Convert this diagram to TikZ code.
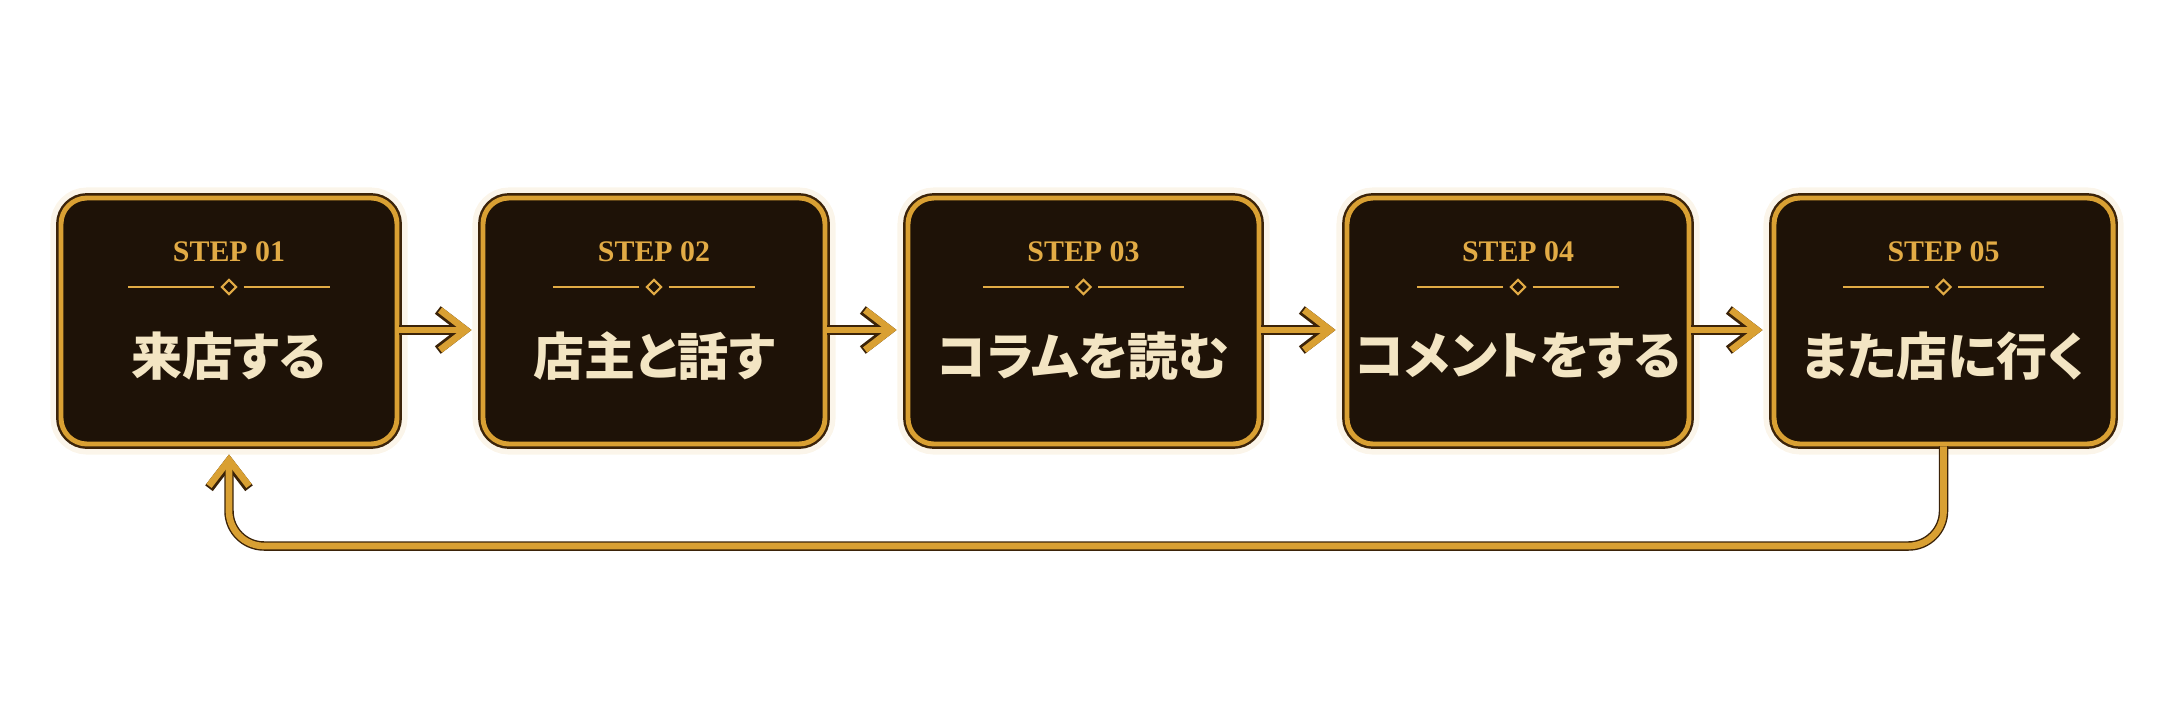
\documentclass[tikz,border=0pt]{standalone}
\usepackage{fontspec}
\setmainfont{Liberation Serif}
\newfontfamily\jpfont{Noto Sans CJK JP}[RawFeature=+palt]
\usetikzlibrary{positioning,arrows.meta,shapes.geometric}

\definecolor{gold}{HTML}{D9A033}
\definecolor{edgedark}{HTML}{3B2309}
\definecolor{boxbrown}{HTML}{1E1207}
\definecolor{cream}{HTML}{F3E5C3}
\definecolor{steptext}{HTML}{E2AB45}

\tikzset{
    stepbox/.style={draw=gold, line width=1.4pt, fill=boxbrown, rounded corners=0.26cm,
        minimum height=2.46cm, inner sep=0pt,
        preaction={draw=gold, line width=6pt, draw opacity=0.1},
        preaction={draw=edgedark, line width=2.8pt}},
    steplabel/.style={text=steptext, font=\bfseries\fontsize{8.5}{10}\selectfont},
    steptitle/.style={text=cream, font=\jpfont\bfseries\fontsize{14.5}{17}\selectfont},
    gem/.style={diamond, draw=steptext, fill=boxbrown, line width=0.6pt, inner sep=0pt, minimum size=0.15cm},
    divider/.style={draw=steptext, line width=0.5pt},
    flow/.style={line width=1.9pt, draw=gold, -{Straight Barb[length=2.6mm, width=4mm]},
        preaction={draw=edgedark, line width=2.7pt, -{Straight Barb[length=2.6mm, width=4mm]}}}
}

\begin{document}
\begin{tikzpicture}
    \useasboundingbox (0,0) rectangle (21.72,7.24);

    % the five step boxes
    \node[stepbox, minimum width=3.36cm] (s1) at (2.29,4.03) {};
    \node[stepbox, minimum width=3.42cm] (s2) at (6.54,4.03) {};
    \node[stepbox, minimum width=3.51cm] (s3) at (10.835,4.03) {};
    \node[stepbox, minimum width=3.42cm] (s4) at (15.18,4.03) {};
    \node[stepbox, minimum width=3.39cm] (s5) at (19.435,4.03) {};

    % label, divider and title inside each box
    \foreach \i/\t in {1/来店する, 2/店主と話す, 3/コラムを読む, 4/コメントをする, 5/また店に行く} {
        \node[steplabel] (lab\i) at ([yshift=0.69cm]s\i.center) {STEP 0\i};
        \node[gem] (gem\i) at ([yshift=0.34cm]s\i.center) {};
        \draw[divider] ([xshift=-0.06cm]gem\i.west) -- ++(-0.86,0);
        \draw[divider] ([xshift=0.06cm]gem\i.east) -- ++(0.86,0);
        \node[steptitle] (title\i) at ([yshift=-0.35cm]s\i.center) {\t};
    }

    % arrows between the steps
    \foreach \a/\b in {1/2, 2/3, 3/4, 4/5}
        \draw[flow, shorten >=0.9mm] ([yshift=-0.9mm]s\a.east) -- ([yshift=-0.9mm]s\b.west);

    % way back to the first step
    \coordinate (back) at (10,1.78);
    \draw[flow, rounded corners=0.35cm, shorten >=0.8mm] (s5.south) |- (back) -| (s1.south);
\end{tikzpicture}
\end{document}
